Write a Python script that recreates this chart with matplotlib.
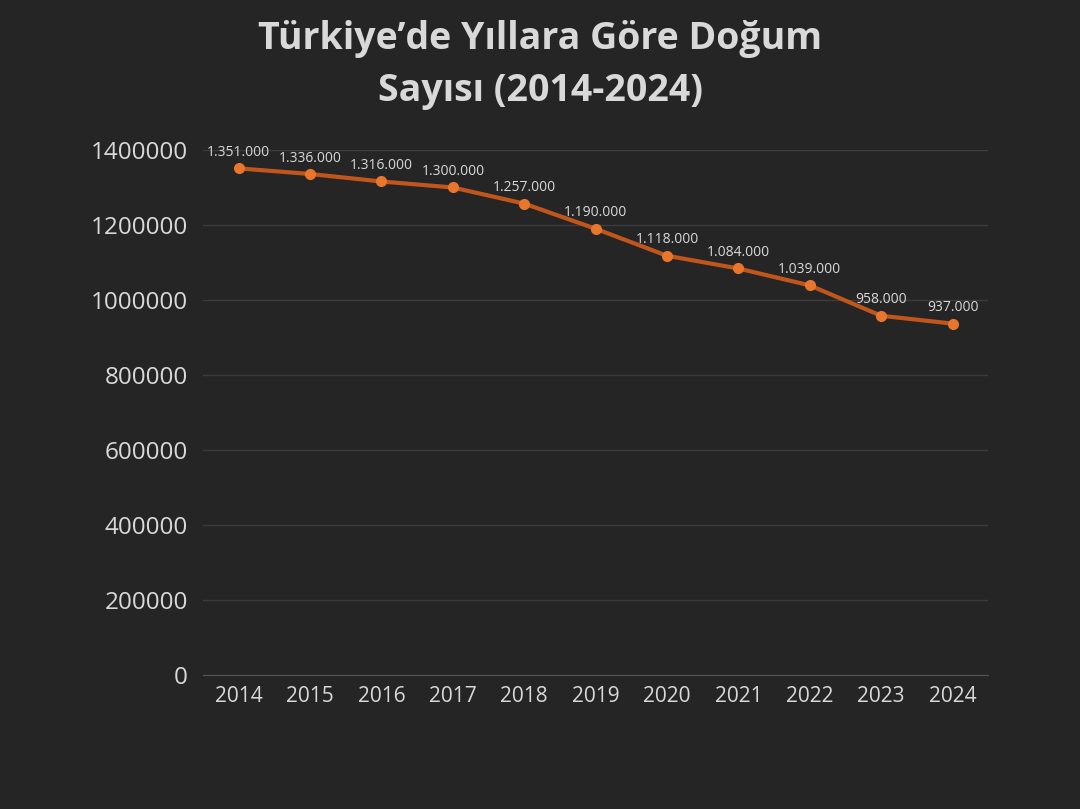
import matplotlib
matplotlib.use("Agg")
import matplotlib.pyplot as plt

years = ["2014", "2015", "2016", "2017", "2018", "2019", "2020", "2021", "2022", "2023", "2024"]
births = [1351000, 1336000, 1316000, 1300000, 1257000, 1190000, 1118000, 1084000, 1039000, 958000, 937000]
yticks = [0, 200000, 400000, 600000, 800000, 1000000, 1200000, 1400000]

bg = "#252526"
txt = "#d9d9d9"

plt.rcParams['font.family'] = ['Open Sans', 'DejaVu Sans']

fig = plt.figure(figsize=(10.8, 8.09), dpi=100, facecolor=bg)
ax = fig.add_axes([0.188, 0.1656, 0.727, 0.649])
ax.set_facecolor(bg)

x = list(range(len(years)))
ax.plot(x, births, color="#c0561b", lw=3, zorder=3)
ax.plot(x, births, "o", color="#e8762d", ms=7, zorder=4)

for i, v in enumerate(births):
    lbl = f"{v:,}".replace(",", ".")
    ax.annotate(lbl, (i, v), xytext=(0, 6), textcoords="offset points",
                ha="center", va="bottom", fontsize=10, color=txt)

ax.set_xlim(-0.5, len(years) - 0.5)
ax.set_ylim(0, 1400000)
ax.set_xticks(x)
ax.set_xticklabels(years)
ax.set_yticks(yticks)
ax.set_yticklabels([str(t) for t in yticks])
ax.tick_params(axis="both", length=0, colors=txt, labelsize=15)
ax.tick_params(axis="y", pad=11, labelsize=17.5)
ax.tick_params(axis="x", pad=8)
ax.grid(axis="y", color="#3c3c3c", lw=1)
ax.set_axisbelow(True)
for s in ["top", "right", "left"]:
    ax.spines[s].set_visible(False)
ax.spines["bottom"].set_color("#555555")

fig.text(0.5, 0.952, "Türkiye’de Yıllara Göre Doğum", ha="center", va="center",
         fontsize=27, fontweight="bold", color=txt)
fig.text(0.5, 0.887, "Sayısı (2014-2024)", ha="center", va="center",
         fontsize=27, fontweight="bold", color=txt)

fig.savefig("out.png", dpi=100, facecolor=bg)
